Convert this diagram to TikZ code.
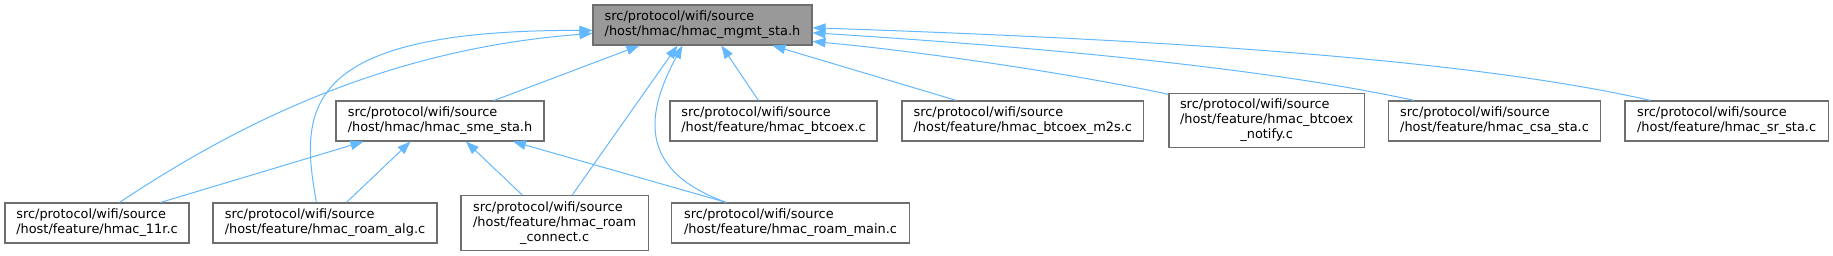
\documentclass[tikz,border=0pt]{standalone}
\usepackage{fontspec}
\setmainfont{DejaVu Sans}
\usetikzlibrary{arrows.meta,calc}
\definecolor{edgeblue}{HTML}{63B8FF}
\definecolor{boxborder}{HTML}{6E6E6E}
\definecolor{mainfill}{HTML}{999999}
\newcommand{\twolbl}[2]{\begin{tabular}{@{}l@{}}#1\\#2\end{tabular}}
\newcommand{\threelbl}[3]{\begin{tabular}{@{}l@{}}#1\\#2\\\multicolumn{1}{@{}c@{}}{#3}\end{tabular}}
\begin{document}
\begin{tikzpicture}[x=1pt,y=-1pt,
  font=\fontsize{12.9}{15}\selectfont,
  box/.style={rectangle, draw=boxborder, line width=1.1pt, fill=white, inner sep=0pt, minimum height=40pt},
  link/.style={draw=edgeblue, line width=1pt, {Triangle[length=13pt,width=9.5pt]}-}]
\useasboundingbox (0,0) rectangle (1833,256);
% top
\node[box, fill=mainfill, minimum width=219pt] (main) at (702.5,25) {\twolbl{src/protocol/wifi/source}{/host/hmac/hmac\_mgmt\_sta.h}};
% row 2
\node[box, minimum width=208pt] (sme) at (440,121) {\twolbl{src/protocol/wifi/source}{/host/hmac/hmac\_sme\_sta.h}};
\node[box, minimum width=207pt] (btc) at (773.5,121) {\twolbl{src/protocol/wifi/source}{/host/feature/hmac\_btcoex.c}};
\node[box, minimum width=241.6pt] (m2s) at (1022.8,121) {\twolbl{src/protocol/wifi/source}{/host/feature/hmac\_btcoex\_m2s.c}};
\node[box, minimum width=195.3pt, minimum height=54.4pt] (notify) at (1266.6,120.5) {\threelbl{src/protocol/wifi/source}{/host/feature/hmac\_btcoex}{\_notify.c}};
\node[box, minimum width=212.4pt] (csa) at (1494.5,121) {\twolbl{src/protocol/wifi/source}{/host/feature/hmac\_csa\_sta.c}};
\node[box, minimum width=203.3pt] (sr) at (1726.6,121) {\twolbl{src/protocol/wifi/source}{/host/feature/hmac\_sr\_sta.c}};
% row 3
\node[box, minimum width=184pt] (r11) at (97,223) {\twolbl{src/protocol/wifi/source}{/host/feature/hmac\_11r.c}};
\node[box, minimum width=224pt] (alg) at (325,223) {\twolbl{src/protocol/wifi/source}{/host/feature/hmac\_roam\_alg.c}};
\node[box, minimum width=187.3pt, minimum height=55pt] (conn) at (554.6,223.2) {\threelbl{src/protocol/wifi/source}{/host/feature/hmac\_roam}{\_connect.c}};
\node[box, minimum width=237.6pt] (rmain) at (790.5,223) {\twolbl{src/protocol/wifi/source}{/host/feature/hmac\_roam\_main.c}};
% edges from main
\draw[link] ($(main.south west)+(47,0)$) -- ($(sme.north west)+(158.7,0)$);
\draw[link] ($(main.north west)+(0,29)$) .. controls +(-213,16) and +(110,-73) .. ($(r11.north west)+(115,0)$);
\draw[link] ($(main.north west)+(0,26)$) .. controls +(-293,-1) and +(-17,-93) .. ($(alg.north west)+(104,0)$);
\draw[link] ($(main.south west)+(85,0)$) -- ($(conn.north west)+(111.7,0)$);
\draw[link] ($(main.south west)+(90,0)$) .. controls +(-35,65) and +(-92,-33) .. ($(rmain.north west)+(55.3,0)$);
\draw[link] ($(main.south west)+(129,0)$) -- ($(btc.north west)+(89,0)$);
\draw[link] ($(main.south west)+(180,0)$) -- ($(m2s.north west)+(55,0)$);
\draw[link] ($(main.north east)+(0,37)$) .. controls +(88,8) and +(-119,-25) .. ($(notify.north west)+(0,1.5)$);
\draw[link] ($(main.north east)+(0,28.3)$) .. controls +(188,12) and +(-165,-36) .. ($(csa.north west)+(26.5,0)$);
\draw[link] ($(main.north east)+(0,23.3)$) .. controls +(288,10) and +(-201,-46) .. ($(sr.north west)+(26,0)$);
% edges from sme
\draw[link] ($(sme.south west)+(28,0)$) -- ($(r11.north west)+(156,0)$);
\draw[link] ($(sme.south west)+(75,0)$) -- ($(alg.north west)+(134,0)$);
\draw[link] ($(sme.south west)+(130.5,0)$) -- ($(conn.north west)+(62,0)$);
\draw[link] ($(sme.south west)+(177.5,0)$) -- ($(rmain.north west)+(55.3,0)$);
\end{tikzpicture}
\end{document}
